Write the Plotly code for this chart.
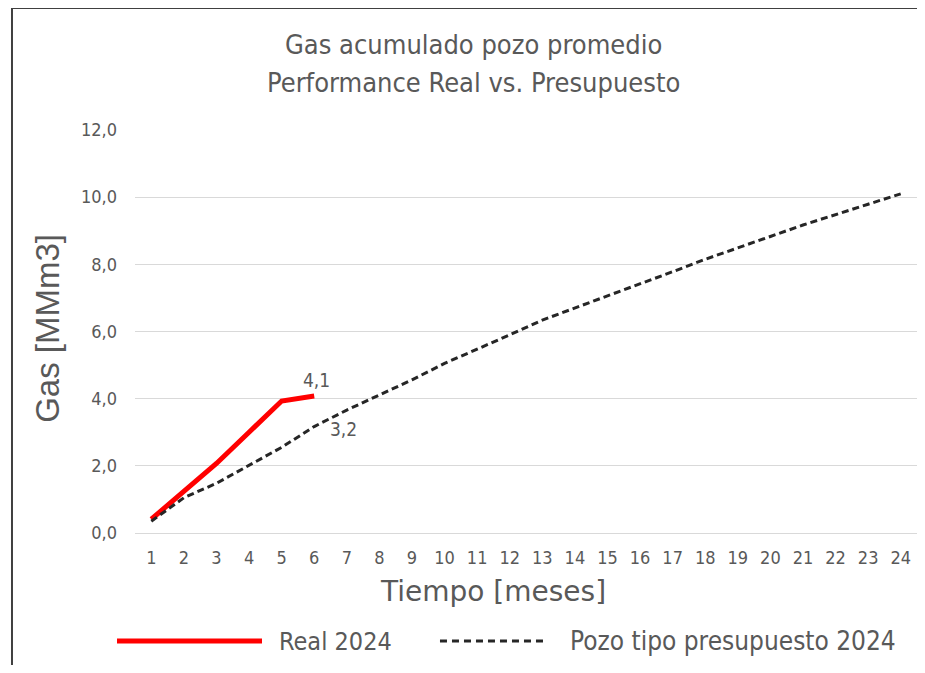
import plotly.graph_objects as go

months = list(range(1, 25))
real_2024 = [0.41, 1.23, 2.07, 3.00, 3.93, 4.08]
presupuesto_2024 = [0.35, 1.05, 1.48, 2.02, 2.55, 3.17, 3.66, 4.11, 4.56, 5.05,
                    5.47, 5.90, 6.34, 6.70, 7.04, 7.42, 7.78, 8.15, 8.50, 8.83,
                    9.17, 9.49, 9.79, 10.10]
y_ticks = [0, 2, 4, 6, 8, 10, 12]

name_real = "Real 2024"
name_pres = "Pozo tipo presupuesto 2024"
title_lines = ["Gas acumulado pozo promedio", "Performance Real vs. Presupuesto"]
x_title = "Tiempo [meses]"
y_title = "Gas [MMm3]"

GRAY = "#595959"
NARROW = "Liberation Sans Narrow, DejaVu Sans Condensed, Arial Narrow, sans-serif"

def fmt(v):
    return f"{v:.1f}".replace(".", ",")

fig = go.Figure()
fig.add_trace(go.Scatter(x=months[:len(real_2024)], y=real_2024, mode="lines",
                         name=name_real, line=dict(color="#FF0000", width=5)))
fig.add_trace(go.Scatter(x=months, y=presupuesto_2024, mode="lines",
                         name=name_pres,
                         line=dict(color="#262626", width=3, dash="7px,4px")))

# data labels
last_r = len(real_2024) - 1
fig.add_annotation(x=months[last_r], y=real_2024[last_r], text=fmt(real_2024[last_r]),
                   showarrow=False, xshift=2, yshift=16,
                   font=dict(family=NARROW, size=19, color=GRAY))
fig.add_annotation(x=months[last_r], y=presupuesto_2024[last_r],
                   text=fmt(presupuesto_2024[last_r]),
                   showarrow=False, xanchor="left", xshift=14, yshift=-2,
                   font=dict(family=NARROW, size=19, color=GRAY))

# title lines
fig.add_annotation(xref="paper", yref="paper", x=0.4335, y=1.211, text=title_lines[0],
                   showarrow=False, xanchor="center", yanchor="middle",
                   font=dict(family=NARROW, size=27, color=GRAY))
fig.add_annotation(xref="paper", yref="paper", x=0.4335, y=1.119, text=title_lines[1],
                   showarrow=False, xanchor="center", yanchor="middle",
                   font=dict(family=NARROW, size=27, color=GRAY))

# axis titles
fig.add_annotation(xref="paper", yref="paper", x=0.4578, y=-0.146, text=x_title,
                   showarrow=False, xanchor="center", yanchor="middle",
                   font=dict(family="DejaVu Sans, sans-serif", size=28, color=GRAY))
fig.add_annotation(xref="paper", yref="paper", x=-0.1113, y=0.509, text=y_title,
                   showarrow=False, xanchor="center", yanchor="middle", textangle=-90,
                   font=dict(family="Liberation Sans, Arial, sans-serif", size=33, color=GRAY))

# manual legend (long line samples as in the original)
leg_y = -0.268
fig.add_shape(type="line", xref="paper", yref="paper", x0=-0.0230, x1=0.1624,
              y0=leg_y, y1=leg_y, line=dict(color="#FF0000", width=5))
fig.add_annotation(xref="paper", yref="paper", x=0.1816, y=leg_y, text=name_real,
                   showarrow=False, xanchor="left", yanchor="middle",
                   font=dict(family=NARROW, size=25, color=GRAY))
fig.add_shape(type="line", xref="paper", yref="paper", x0=0.3900, x1=0.5281,
              y0=leg_y, y1=leg_y, line=dict(color="#262626", width=3, dash="7px,5px"))
fig.add_annotation(xref="paper", yref="paper", x=0.5537, y=leg_y, text=name_pres,
                   showarrow=False, xanchor="left", yanchor="middle",
                   font=dict(family=NARROW, size=26, color=GRAY))

# chart frame (left and top edges visible in the original crop)
fig.add_shape(type="line", xref="paper", yref="paper", x0=-0.1573, x1=-0.1573,
              y0=-0.4, y1=1.3027, line=dict(color="#404040", width=2))
fig.add_shape(type="line", xref="paper", yref="paper", x0=-0.1573, x1=1.1,
              y0=1.3027, y1=1.3027, line=dict(color="#404040", width=2))

fig.update_layout(
    width=909, height=657,
    margin=dict(l=127, r=0, t=122, b=132),
    paper_bgcolor="white", plot_bgcolor="white",
    showlegend=False,
    separators=",.",
    xaxis=dict(range=[0.5, 24.5], tickmode="array", tickvals=months,
               ticktext=[str(m) for m in months], showgrid=False,
               zeroline=False, showline=False, ticks="",
               ticklabelstandoff=12,
               tickfont=dict(family=NARROW, size=18, color=GRAY), fixedrange=True),
    yaxis=dict(range=[0, 12], tickmode="array", tickvals=y_ticks,
               tickformat=".1f", showgrid=True, gridcolor="#d9d9d9", gridwidth=1,
               zeroline=True, zerolinecolor="#d9d9d9", zerolinewidth=1,
               showline=False, ticks="", ticklabelstandoff=17,
               tickfont=dict(family=NARROW, size=18, color=GRAY), fixedrange=True),
)

fig.write_html("out.html")
